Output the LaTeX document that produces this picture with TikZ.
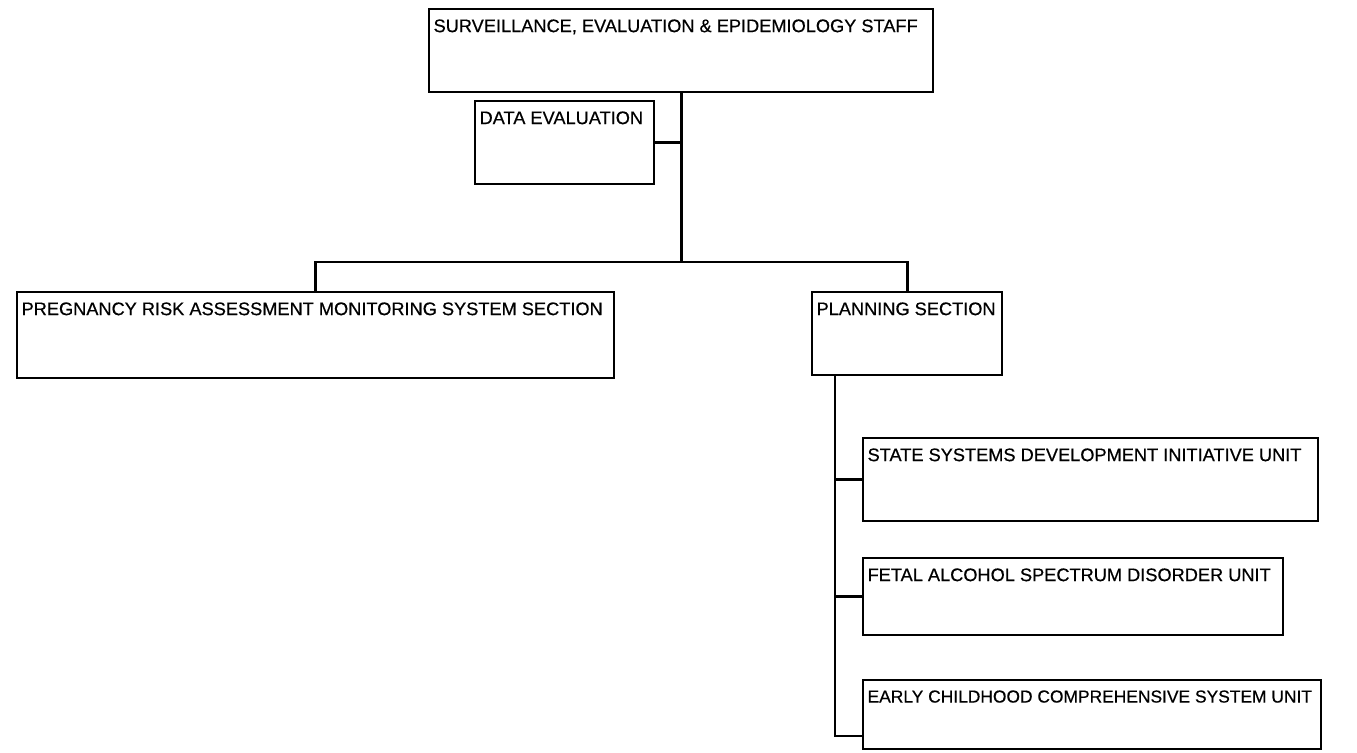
\documentclass[tikz,border=0pt]{standalone}
\usepackage{fontspec}
\setmainfont{Liberation Sans}[BoldFont={Liberation Sans},BoldFeatures={FakeBold=0.5}]
\begin{document}
\begin{tikzpicture}[x=0.5pt,y=-0.5pt,
  box/.style={draw=black,line width=1.2pt,fill=white,anchor=north west,inner sep=0pt},
  lbl/.style={anchor=north west,inner xsep=2.6pt,inner ysep=5.5pt,font=\fontsize{9.1pt}{10pt}\selectfont\bfseries},
  conn/.style={draw=black,line width=1.4pt}]
\useasboundingbox[fill=white] (0,0) rectangle (1357,752);
% boxes (pixel coordinates)
\node[box,minimum width=252pt,minimum height=41.5pt] (staff) at (428,8) {};
\node[lbl] (staffT) at (staff.north west) {SURVEILLANCE, EVALUATION \& EPIDEMIOLOGY STAFF};
\node[box,minimum width=89.5pt,minimum height=41.5pt] (dataeval) at (474,100) {};
\node[lbl] (dataevalT) at (dataeval.north west) {DATA EVALUATION};
\node[box,minimum width=298.5pt,minimum height=43pt] (prams) at (16,291) {};
\node[lbl] (pramsT) at (prams.north west) {PREGNANCY RISK ASSESSMENT MONITORING SYSTEM SECTION};
\node[box,minimum width=95pt,minimum height=41.5pt] (planning) at (811,291) {};
\node[lbl] (planningT) at (planning.north west) {PLANNING SECTION};
\node[box,minimum width=227.5pt,minimum height=41.5pt] (ssdi) at (862,437) {};
\node[lbl] (ssdiT) at (ssdi.north west) {STATE SYSTEMS DEVELOPMENT INITIATIVE UNIT};
\node[box,minimum width=210pt,minimum height=38.5pt] (fasd) at (862,557) {};
\node[lbl] (fasdT) at (fasd.north west) {FETAL ALCOHOL SPECTRUM DISORDER UNIT};
\node[box,minimum width=229pt,minimum height=34.5pt] (eccs) at (862,679) {};
\node[lbl,font=\fontsize{8.7pt}{10pt}\selectfont\bfseries] (eccsT) at (eccs.north west) {EARLY CHILDHOOD COMPREHENSIVE SYSTEM UNIT};
% helper coordinates
\coordinate (bus) at (0,262);
\coordinate (pv) at (835,0);
\coordinate (eb) at (862,736);
% connectors
\draw[conn] (staff.south) -- (staff.south |- bus);
\draw[conn] (dataeval.east) -- (dataeval.east -| staff.south);
\draw[conn] (prams.north) -- (prams.north |- bus) -- (planning.north |- bus) -- (planning.north);
\draw[conn] (pv |- planning.south) -- (pv |- eb) -- (eb);
\draw[conn] (pv |- ssdi.west) -- (ssdi.west);
\draw[conn] (pv |- fasd.west) -- (fasd.west);
\end{tikzpicture}
\end{document}
